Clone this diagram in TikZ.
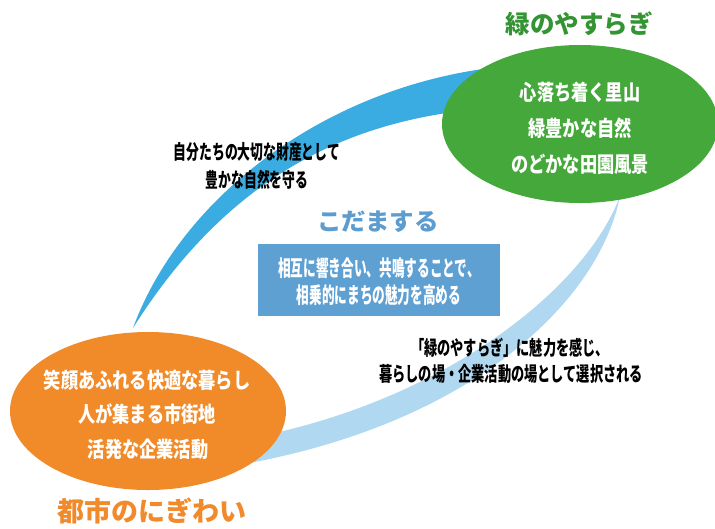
\documentclass[tikz,border=0pt]{standalone}
\usepackage{fontspec}
\usepackage{graphicx}
\usetikzlibrary{shapes.geometric}
\newfontfamily\jp{Noto Sans CJK JP}
\newcommand{\hsq}[2]{\scalebox{#1}[1]{#2}}
\definecolor{arcdark}{RGB}{58,172,226}
\definecolor{arclight}{RGB}{176,216,240}
\definecolor{greenfill}{RGB}{69,168,58}
\definecolor{orangefill}{RGB}{241,139,42}
\definecolor{boxblue}{RGB}{95,160,211}
\definecolor{titlegreen}{RGB}{52,148,52}
\definecolor{titleorange}{RGB}{240,138,42}
\definecolor{echoblue}{RGB}{93,156,207}
\tikzset{
  ell/.style={ellipse, minimum width=276pt, minimum height=158pt, inner sep=0pt},
  txt/.style={inner sep=0pt, anchor=center},
  intext/.style={txt, text=white, font=\jp\bfseries\fontsize{21.5}{24}\selectfont},
  boxtext/.style={txt, text=white, font=\jp\bfseries\fontsize{22}{24}\selectfont},
  lbl/.style={txt, text=black, font=\jp\bfseries\fontsize{20}{22}\selectfont},
  title/.style={txt, font=\jp\bfseries\fontsize{25}{28}\selectfont},
}
\begin{document}
\begin{tikzpicture}[x=1pt,y=-1pt]
\useasboundingbox (0,0) rectangle (715,528);
% arcs
\fill[arcdark] (133,328) .. controls (180,200) and (320,90) .. (490,68)
  -- (470,110) .. controls (330,125) and (220,190) .. (133,328) -- cycle;
\fill[arclight] (620,196) .. controls (600,300) and (470,430) .. (220,468)
  -- (240,440) .. controls (440,405) and (585,290) .. (620,196) -- cycle;
% ellipses
\node[ell, fill=greenfill] (green) at (580,124) {};
\node[ell, fill=orangefill] (orange) at (148,411) {};
% box
\node[fill=boxblue, minimum width=242pt, minimum height=72pt, inner sep=0pt] (box) at (379,280) {};
% titles
\node[title, text=titlegreen] (tgreen) at (579,24) {\hsq{0.98}{緑のやすらぎ}};
\node[title, text=titleorange, font=\jp\bfseries\fontsize{27}{30}\selectfont] (torange) at (152,511) {都市のにぎわい};
\node[title, text=echoblue, font=\jp\bfseries\fontsize{24}{27}\selectfont] (techo) at (378,222) {\hsq{1.02}{こだまする}};
% green text
\node[intext] (g1) at (580,92) {\hsq{0.8}{心落ち着く里山}};
\node[intext] (g2) at (580,128) {\hsq{0.8}{緑豊かな自然}};
\node[intext] (g3) at (580,164) {\hsq{0.8}{のどかな田園風景}};
% orange text
\node[intext] (o1) at (147,380) {\hsq{0.8}{笑顔あふれる快適な暮らし}};
\node[intext] (o2) at (147,414) {\hsq{0.8}{人が集まる市街地}};
\node[intext] (o3) at (148,449) {\hsq{0.8}{活発な企業活動}};
% box text
\node[boxtext] (b1) at (379,268) {\hsq{0.575}{相互に響き合い、共鳴することで、}};
\node[boxtext] (b2) at (379,295) {\hsq{0.575}{相乗的にまちの魅力を高める}};
% labels
\node[lbl] (l1) at (257,152) {\hsq{0.64}{自分たちの大切な財産として}};
\node[lbl] (l2) at (257,180) {\hsq{0.64}{豊かな自然を守る}};
\node[lbl] (r1) at (510,348) {\hsq{0.66}{「緑のやすらぎ」に魅力を感じ、}};
\node[lbl] (r2) at (511,374) {\hsq{0.66}{暮らしの場・企業活動の場として選択される}};
\end{tikzpicture}
\end{document}
